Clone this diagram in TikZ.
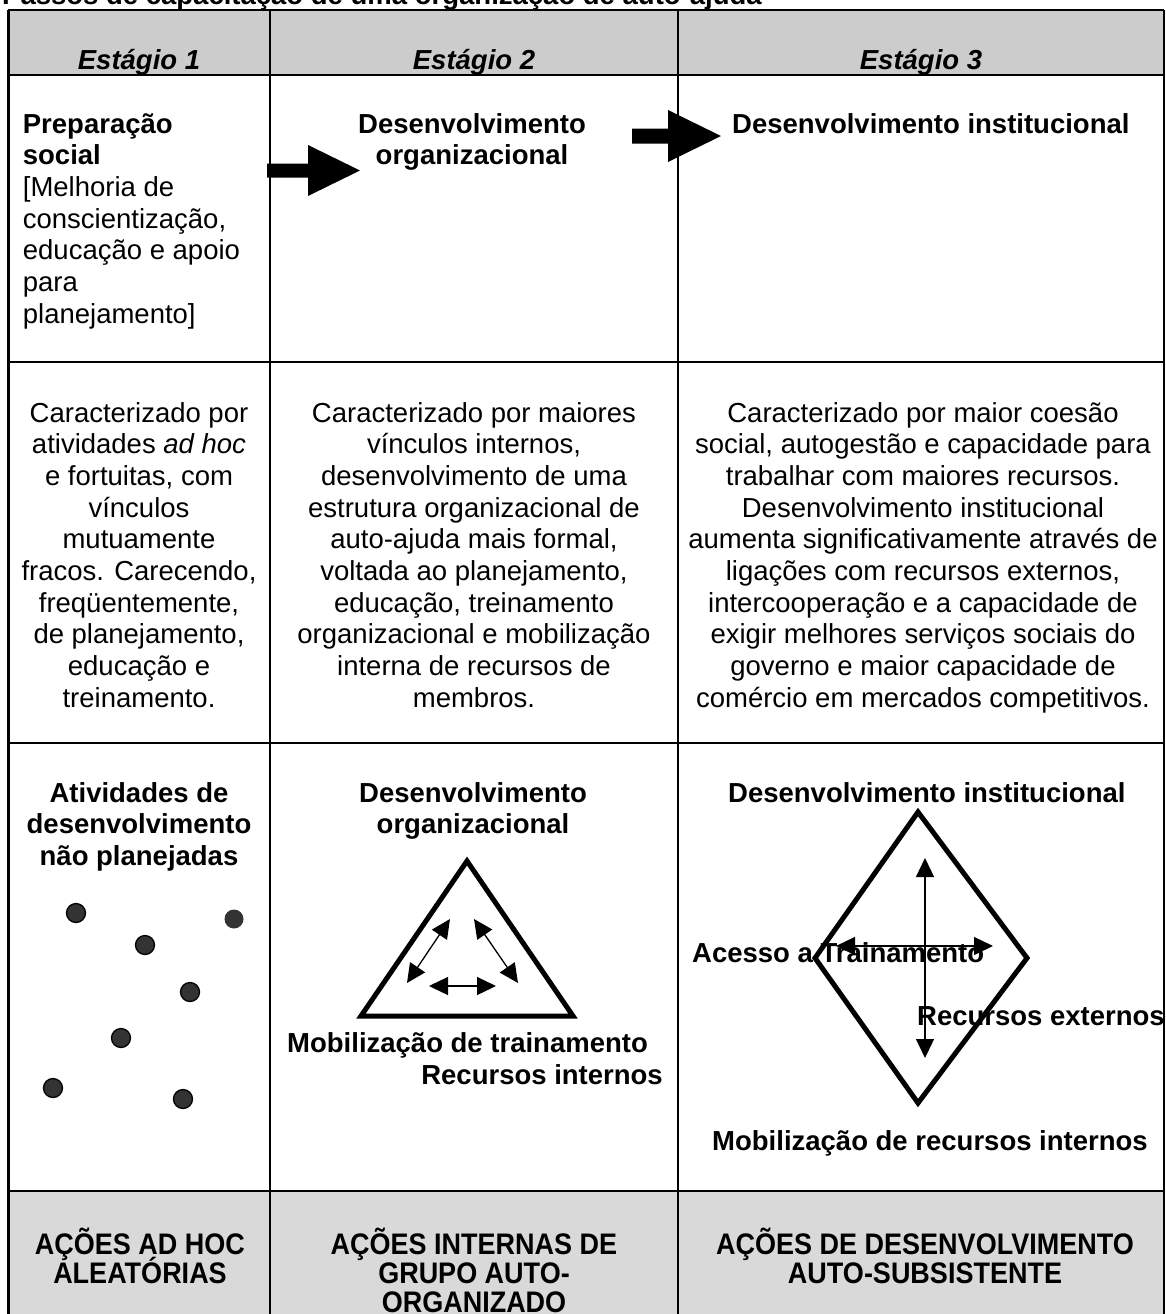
\documentclass[tikz,border=0pt]{standalone}
\usepackage{fontspec}
\setmainfont{Liberation Sans}
\usepackage{graphicx}
\usetikzlibrary{arrows.meta}
\definecolor{hdrgray}{HTML}{CCCCCC}
\definecolor{botgray}{HTML}{D9D9D9}
\definecolor{dotgray}{HTML}{333333}
\newcommand\cbox[1]{\vtop{\lineskiplimit=-100pt\relax\halign{\hfil##\hfil\cr#1\crcr}}}
\newcommand\lbox[1]{\vtop{\lineskiplimit=-100pt\relax\halign{##\hfil\cr#1\crcr}}}
\begin{document}
\begin{tikzpicture}[x=1pt,y=-1pt,
  txt/.style={inner sep=0pt, anchor=base, font=\fontsize{27.5}{31.7}\selectfont},
  btxt/.style={txt, font=\fontsize{27.5}{31.7}\selectfont\bfseries},
  hdr/.style={txt, font=\fontsize{27.5}{31.7}\selectfont\bfseries\itshape},
  bot/.style={inner sep=0pt, anchor=base, font=\fontsize{27}{26.8}\selectfont\bfseries},
  tbl/.style={line width=2.2pt, black},
  shapeline/.style={line width=5pt, line join=miter, black},
  dbl/.style={line width=1.3pt, {Triangle[length=19pt,width=18pt]}-{Triangle[length=19pt,width=18pt]}},
  blockarrow/.style={fill=black},
  dot/.style={circle, fill=dotgray, draw=black, line width=1.3pt, minimum size=19pt, inner sep=0pt},
  dotplain/.style={circle, fill=dotgray, minimum size=19pt, inner sep=0pt}]
\useasboundingbox (0,0) rectangle (1165,1314);

% backgrounds
\fill[hdrgray] (8,10) rectangle (1164,75);
\fill[botgray] (8,1191) rectangle (1164,1320);

% title (partly cut off at the top)
\node[btxt, anchor=base west] (title) at (2,5) {Passos de capacitação de uma organização de auto-ajuda};

% table grid
\draw[tbl] (8,10) -- (1164,10);
\draw[tbl] (8,75) -- (1164,75);
\draw[tbl, line width=2.6pt] (8,362) -- (1164,362);
\draw[tbl, line width=2.6pt] (8,743) -- (1164,743);
\draw[tbl] (8,1191) -- (1164,1191);
\draw[tbl] (8.4,10) -- (8.4,1320);
\draw[tbl] (270,10) -- (270,1320);
\draw[tbl] (678,10) -- (678,1320);
\draw[tbl, line width=1.2pt] (1164,10) -- (1164,1320);

% header
\node[hdr] (s1) at (139,70) {Estágio 1};
\node[hdr] (s2) at (474,70) {Estágio 2};
\node[hdr] (s3) at (921,70) {Estágio 3};

% row 1
\node[txt, anchor=base west] (prep) at (22.7,133) {\lbox{\textbf{Preparação}\cr \textbf{social}\cr [Melhoria de\cr conscientização,\cr educação e apoio\cr para\cr planejamento]}};
\node[btxt] (org1) at (472,133) {\cbox{Desenvolvimento\cr organizacional}};
\node[btxt, anchor=base west] (inst1) at (732,133) {Desenvolvimento institucional};
\fill[blockarrow] (267,163.5) -- (308,163.5) -- (308,145) -- (360,170.5) -- (308,196) -- (308,177.5) -- (267,177.5) -- cycle;
\fill[blockarrow] (632,128.5) -- (668,128.5) -- (668,110) -- (721,136) -- (668,162) -- (668,143.5) -- (632,143.5) -- cycle;

% row 2
\node[txt] (c1) at (139,422) {\cbox{Caracterizado por\cr atividades \textit{ad hoc}\cr e fortuitas, com\cr vínculos\cr mutuamente\cr fracos. Carecendo,\cr freqüentemente,\cr de planejamento,\cr educação e\cr treinamento.}};
\node[txt] (c2) at (474,422) {\cbox{Caracterizado por maiores\cr vínculos internos,\cr desenvolvimento de uma\cr estrutura organizacional de\cr auto-ajuda mais formal,\cr voltada ao planejamento,\cr educação, treinamento\cr organizacional e mobilização\cr interna de recursos de\cr membros.}};
\node[txt] (c3) at (923,422) {\cbox{Caracterizado por maior coesão\cr social, autogestão e capacidade para\cr trabalhar com maiores recursos.\cr Desenvolvimento institucional\cr aumenta significativamente através de\cr ligações com recursos externos,\cr intercooperação e a capacidade de\cr exigir melhores serviços sociais do\cr governo e maior capacidade de\cr comércio em mercados competitivos.}};

% row 3, column 1
\node[btxt] (ativ) at (139,802) {\cbox{Atividades de\cr desenvolvimento\cr não planejadas}};
\node[dot] (p1) at (76,913) {};
\node[dotplain] (p2) at (234,919) {};
\node[dot] (p3) at (145,945) {};
\node[dot] (p4) at (190,992) {};
\node[dot] (p5) at (121,1038) {};
\node[dot] (p6) at (53,1088) {};
\node[dot] (p7) at (183,1099) {};

% row 3, column 2
\node[btxt] (org2) at (473,802) {\cbox{Desenvolvimento\cr organizacional}};
\node[btxt, anchor=base west] (mob1) at (287,1052) {Mobilização de trainamento};
\node[btxt, anchor=base east] (rint) at (663,1084) {Recursos internos};
\coordinate (tA) at (467,861);
\coordinate (tL) at (361,1016);
\coordinate (tR) at (573,1016);
\draw[shapeline] (tA) -- (tL) -- (tR) -- cycle;
\coordinate (a1) at (407,983);
\coordinate (a2) at (450,919);
\coordinate (a3) at (474,919);
\coordinate (a4) at (518,983);
\coordinate (a5) at (429,986);
\coordinate (a6) at (496,986);
\draw[dbl] (a1) -- (a2);
\draw[dbl] (a3) -- (a4);
\draw[dbl] (a5) -- (a6);

% row 3, column 3
\node[btxt, anchor=base west] (inst2) at (728,802) {Desenvolvimento institucional};
\node[btxt, anchor=base west] (acc) at (692,962) {Acesso a Trainamento};
\node[btxt, anchor=base west] (rext) at (917,1025) {Recursos externos};
\node[btxt, anchor=base west] (mob2) at (712,1150) {Mobilização de recursos internos};
\coordinate (dT) at (918,812);
\coordinate (dL) at (815,958);
\coordinate (dR) at (1027,958);
\coordinate (dB) at (918,1103);
\draw[shapeline] (dT) -- (dR) -- (dB) -- (dL) -- cycle;
\coordinate (v1) at (925,858);
\coordinate (v2) at (925,1058);
\coordinate (h1) at (836,946);
\coordinate (h2) at (993,946);
\draw[dbl] (v1) -- (v2);
\draw[dbl] (h1) -- (h2);

% bottom row
\node[bot] (b1) at (140,1254) {\scalebox{1}[1.1]{\cbox{AÇÕES AD HOC\cr ALEATÓRIAS}}};
\node[bot] (b2) at (474,1254) {\scalebox{1}[1.1]{\cbox{AÇÕES INTERNAS DE\cr GRUPO AUTO-\cr ORGANIZADO}}};
\node[bot] (b3) at (925,1254) {\scalebox{1}[1.1]{\cbox{AÇÕES DE DESENVOLVIMENTO\cr AUTO-SUBSISTENTE}}};
\end{tikzpicture}
\end{document}
